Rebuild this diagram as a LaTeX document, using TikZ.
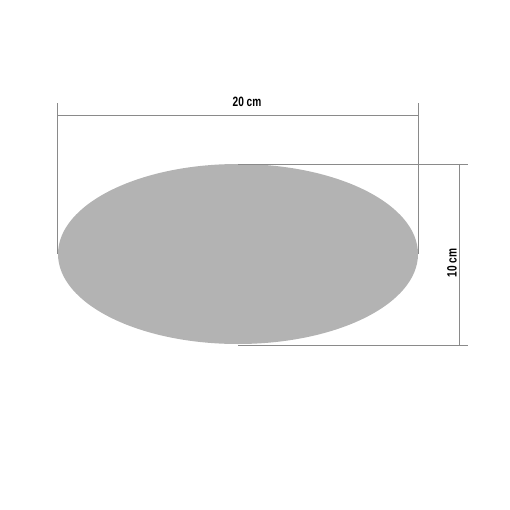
\documentclass[tikz,border=0pt]{standalone}
\usepackage{fontspec}
\setmainfont{Liberation Sans}[FakeStretch=0.75]
\definecolor{plategray}{HTML}{B3B3B3}
\definecolor{linegray}{HTML}{8A8A8A}
\begin{document}
\begin{tikzpicture}[x=1pt,y=-1pt]
                \useasboundingbox (0,0) rectangle (510,510);
                \tikzset{dimline/.style={linegray,line width=0.9pt},
                         dimtext/.style={font=\bfseries\fontsize{13.5}{15}\selectfont,inner sep=0pt}}

                \coordinate (centre) at (238,254);
                \fill[plategray] (centre) ellipse (180 and 90);

                % width
                \coordinate (wl) at (57,254);
                \coordinate (wr) at (418,254);
                \draw[dimline] (wl) -- (57,103);
                \draw[dimline] (wr) -- (418,103);
                \draw[dimline] (57,115) -- (418,115);
                \node[dimtext] (width) at (247,102) {20 cm};

                % height
                \draw[dimline] (238,164) -- (468,164);
                \draw[dimline] (238,345) -- (468,345);
                \draw[dimline] (459,164) -- (459,345);
                \node[dimtext,rotate=90] (height) at (452,263) {10 cm};

            \end{tikzpicture}
\end{document}
